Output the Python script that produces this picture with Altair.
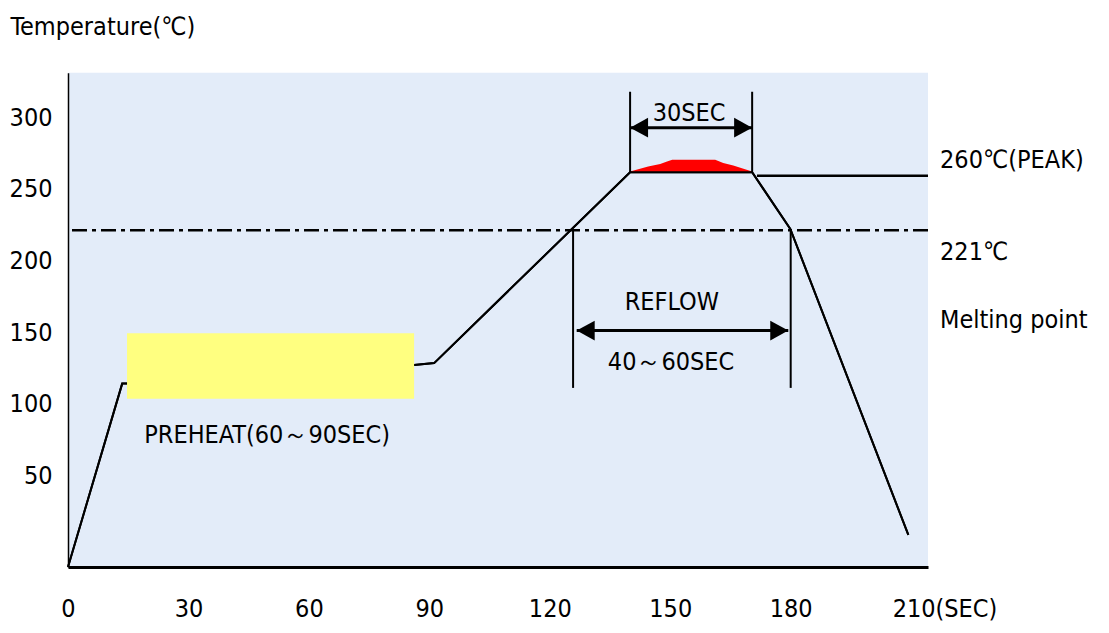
import altair as alt
import pandas as pd

FONT = "DejaVu Sans Condensed, sans-serif"
FS = 25

# ---- data (time in s, temperature in degC) ----
prof_t = [0, 13.5, 14.7, 86.2, 91.2, 140.0, 170.4, 179.9, 209.3]
prof_v = [-14, 114, 114, 127, 128.3, 261.5, 261.5, 222, 8.4]

pre_t0 = [14.7]
pre_t1 = [86.2]
pre_v0 = [103.4]
pre_v1 = [149.2]

peak_t = [140.0, 144.5, 147.5, 149.2, 150.5, 161.2, 163.2, 165.7, 170.4]
peak_v = [262, 265.6, 267.2, 269.1, 270.3, 270.3, 268.0, 266.3, 262]
peak_base = [261.5] * len(peak_t)

melt_v = [221]
peakref_t0 = [171.6]
peakref_t1 = [214.2]
peakref_v = [259]

bound_t = [140.0, 170.4, 125.8, 180.0]
bound_v0 = [261.5, 261.5, 221, 221]
bound_v1 = [317.7, 317.7, 111, 111]

arrow_t0 = [140.0, 126.7]
arrow_t1 = [170.4, 179.4]
arrow_v = [292.6, 151]

note_text = ["30SEC", "REFLOW", "40～60SEC", "PREHEAT(60～90SEC)"]
note_t = [154.7, 150.4, 150.2, 49.6]
note_v = [303.1, 171.3, 129.4, 78.2]

side_text = ["260℃(PEAK)", "221℃", "Melting point"]
side_t = [217.2, 217.2, 217.2]
side_v = [270.3, 206, 158.5]

x_ticks = [0, 30, 60, 90, 120, 150, 180, 210]
y_ticks = [50, 100, 150, 200, 250, 300]
x_domain = [0, 214.2]
y_domain = [-14, 331]

# ---- frames ----
prof = pd.DataFrame({"t": prof_t, "v": prof_v, "o": range(len(prof_t))})
pre = pd.DataFrame({"t0": pre_t0, "t1": pre_t1, "v0": pre_v0, "v1": pre_v1})
peak = pd.DataFrame({"t": peak_t, "v": peak_v, "b": peak_base})
melt = pd.DataFrame({"v": melt_v})
pref = pd.DataFrame({"t0": peakref_t0, "t1": peakref_t1, "v": peakref_v})
bounds = pd.DataFrame({"t": bound_t, "v0": bound_v0, "v1": bound_v1})
arrows = pd.DataFrame({"t0": arrow_t0, "t1": arrow_t1, "v": arrow_v})
notes = pd.DataFrame({"label": note_text, "t": note_t, "v": note_v})
side = pd.DataFrame({"label": side_text, "t": side_t, "v": side_v})

X = alt.X("t:Q", scale=alt.Scale(domain=x_domain, nice=False, zero=False),
          axis=alt.Axis(values=x_ticks, title=None, grid=False, ticks=False,
                        domainColor="black", domainWidth=3,
                        labelFont=FONT, labelFontSize=FS, labelColor="black",
                        labelPadding=41, labelBaseline="middle",
                        labelExpr="datum.value == 210 ? '210(SEC)' : datum.label",
                        labelAlign={"condition": {"test": "datum.value == 210", "value": "left"}, "value": "center"},
                        labelOffset={"condition": {"test": "datum.value == 210", "value": -19}, "value": 0}))
Y = alt.Y("v:Q", scale=alt.Scale(domain=y_domain, nice=False, zero=False),
          axis=alt.Axis(values=y_ticks, title="Temperature(℃)", grid=False, ticks=False,
                        domainColor="black", domainWidth=1.5,
                        labelFont=FONT, labelFontSize=FS, labelColor="black", labelPadding=16,
                        titleFont=FONT, titleFontSize=FS, titleFontWeight="normal", titleColor="black",
                        titleAngle=0, titleAlign="left", titleBaseline="middle",
                        titleX=-58, titleY=-46))

melt_rule = alt.Chart(melt).mark_rule(color="black", strokeWidth=2.5, strokeDash=[15, 5, 4, 5]).encode(
    y=alt.Y("v:Q"))

area = alt.Chart(peak).mark_area(color="#FF0000", opacity=1).encode(
    x=alt.X("t:Q"), y=alt.Y("v:Q"), y2="b:Q")

line = alt.Chart(prof).mark_line(color="black", strokeWidth=2).encode(
    x=X, y=Y, order="o:Q")

rect = alt.Chart(pre).mark_rect(color="#FFFF80", opacity=1).encode(
    x="t0:Q", x2="t1:Q", y="v0:Q", y2="v1:Q")

pref_rule = alt.Chart(pref).mark_rule(color="black", strokeWidth=2.5).encode(
    x="t0:Q", x2="t1:Q", y="v:Q")

bound_rules = alt.Chart(bounds).mark_rule(color="black", strokeWidth=2).encode(
    x="t:Q", y="v0:Q", y2="v1:Q")

arrow_rules = alt.Chart(arrows).mark_rule(color="black", strokeWidth=3).encode(
    x="t0:Q", x2="t1:Q", y="v:Q")

head_left = alt.Chart(arrows).mark_point(
    shape="M0,0L1,-0.55L1,0.55Z", filled=True, color="black", opacity=1, size=1296, strokeWidth=0
).encode(x="t0:Q", y="v:Q")

head_right = alt.Chart(arrows).mark_point(
    shape="M0,0L-1,-0.55L-1,0.55Z", filled=True, color="black", opacity=1, size=1296, strokeWidth=0
).encode(x="t1:Q", y="v:Q")

note_txt = alt.Chart(notes).mark_text(font=FONT, fontSize=FS, color="black", align="center",
                                      baseline="middle").encode(x="t:Q", y="v:Q", text="label:N")

side_txt = alt.Chart(side).mark_text(font=FONT, fontSize=FS, color="black", align="left",
                                     baseline="middle").encode(x="t:Q", y="v:Q", text="label:N")

chart = alt.layer(
    line, melt_rule, area, line, rect, pref_rule, bound_rules, arrow_rules,
    head_left, head_right, note_txt, side_txt
).properties(
    width=860, height=494.3,
    autosize=alt.AutoSizeParams(type="none"),
    padding={"left": 60, "top": 64.7, "right": 170, "bottom": 58},
    background="white",
).configure_view(
    fill="#E3ECF9", strokeWidth=0
)

chart.save("out.html", embed_options={"renderer": "svg", "actions": False})
